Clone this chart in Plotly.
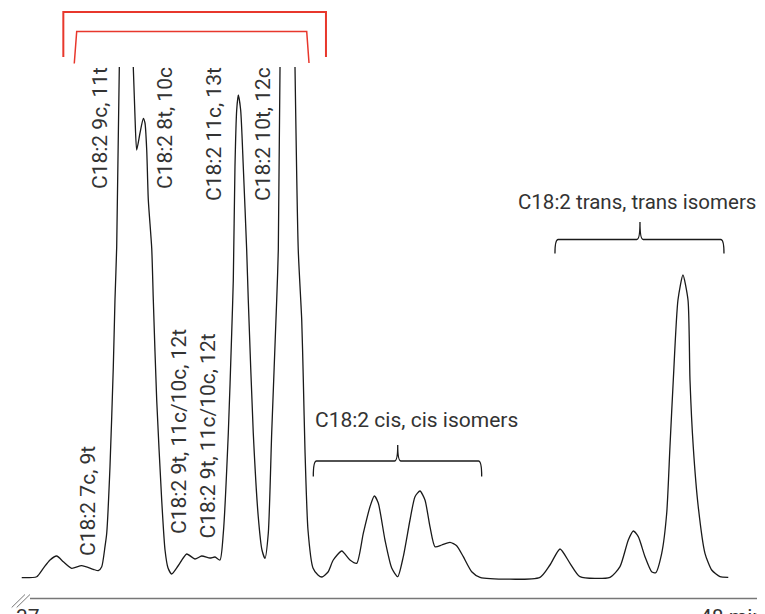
import plotly.graph_objects as go

# Retention time (min) and detector response (arbitrary units).
# None marks where the two biggest peaks run off scale.
time_min = [
    36.902, 37.136, 37.239, 37.344, 37.448, 37.552, 37.683, 37.839, 38.020, 38.098,
    38.152, 38.203, 38.230, 38.281, 38.333, 38.359, 38.386, 38.427, None,
    38.645, 38.672, 38.698, 38.750, 38.802, 38.828, 38.855, 38.880, 38.933, 38.958,
    39.011, 39.089, 39.141, 39.188, 39.245, 39.344, 39.480, 39.609, 39.714, 39.844,
    39.922, 40.000, 40.052, 40.130, 40.183, 40.208, 40.234, 40.261, 40.286, 40.323,
    40.364, 40.417, 40.442, 40.520, 40.598, 40.656, 40.703, 40.755, 40.808, 40.886,
    40.911, 40.938, None,
    41.172, 41.223, 41.277, 41.302, 41.328, 41.375, 41.453, 41.531, 41.594, 41.688,
    41.770, 41.902, 42.031, 42.136, 42.239, 42.344, 42.411, 42.473, 42.578, 42.683,
    42.777, 42.864, 42.969, 43.047, 43.125, 43.203, 43.281, 43.359, 43.464, 43.594,
    43.698, 43.802, 43.933, 44.063, 45.000, 45.156, 45.313, 45.469, 45.625, 46.094,
    46.250, 46.380, 46.458, 46.536, 46.641, 46.745, 46.808, 46.902, 46.980, 47.031,
    47.083, 47.156, 47.234, 47.313, 47.344, 47.395, 47.473, 47.578, 47.683, 47.813,
    47.942,
]
response = [
    0.06, 0.26, 1.94, 3.6, 4.4, 3.26, 1.94, 2.46, 1.74, 1.46,
    2.26, 6.26, 8.94, 22.26, 42.26, 55.6, 66.26, 102.2, None,
    102.2, 92.26, 85.6, 89.0, 91.94, 91.0, 85.6, 75.6, 66.0, 55.6,
    35.6, 15.6, 5.6, 2.0, 0.8, 2.4, 4.8, 3.8, 4.4, 4.0,
    4.2, 3.6, 9.0, 29.0, 49.0, 59.6, 82.26, 93.6, 96.6, 93.6,
    82.26, 65.6, 55.6, 29.0, 12.26, 5.6, 3.94, 9.0, 29.0, 55.6,
    65.6, 102.2, None,
    102.2, 65.6, 51.6, 39.6, 25.6, 9.6, 2.0, 0.6, 0.2, 1.2,
    3.6, 5.4, 3.6, 2.94, 8.94, 14.26, 16.4, 15.0, 7.6, 2.0,
    0.26, 4.26, 11.6, 16.26, 17.4, 15.6, 10.26, 6.26, 6.6, 7.14,
    6.46, 4.26, 1.26, 0.14, 0.14, 2.6, 5.8, 2.94, 0.26, 0.14,
    2.26, 7.6, 9.4, 8.26, 4.26, 1.26, 1.06, 4.94, 12.94, 26.26,
    39.6, 55.6, 60.6, 55.6, 39.6, 26.26, 14.26, 4.94, 1.6, 0.26,
    0.14,
]

# Rotated peak labels: text, time, response at label centre
peak_labels = ["C18:2 9c, 11t", "C18:2 8t, 10c", "C18:2 11c, 13t", "C18:2 10t, 12c",
               "C18:2 7c, 9t", "C18:2 9t, 11c/10c, 12t", "C18:2 9t, 11c/10c, 12t"]
peak_label_t = [38.125, 39.141, 39.906, 40.672, 37.930, 39.359, 39.805]
peak_label_y = [90.0, 90.0, 88.8, 88.8, 15.3, 29.4, 28.4]

tick_vals = [37, 48]
tick_text = ["37", "48 min"]

INK = "#1a1a1a"
TEXT = "#333333"
RED = "#e8372c"
FONT = "Roboto"

fig = go.Figure()

fig.add_trace(go.Scatter(
    x=time_min, y=response, mode="lines",
    line=dict(color=INK, width=1.3, shape="spline", smoothing=0.6),
    hoverinfo="skip", showlegend=False,
))

for txt, t, y in zip(peak_labels, peak_label_t, peak_label_y):
    fig.add_annotation(x=t, y=y, text=txt, textangle=-90, showarrow=False,
                       xanchor="center", yanchor="middle",
                       font=dict(family=FONT, size=21, color=TEXT))

# group labels
fig.add_annotation(x=41.458, y=31.6, text="C18:2 cis, cis isomers", showarrow=False,
                   xanchor="left", yanchor="middle", font=dict(family=FONT, size=21, color=TEXT))
fig.add_annotation(x=46.52, y=75.2, text="C18:2 trans, trans isomers", showarrow=False,
                   xanchor="center", yanchor="middle", font=dict(family=FONT, size=20.5, color=TEXT))


def brace(x0, x1, xm, y, h, tip):
    # curly brace opening downward, tip pointing up at xm
    d = 0.05
    return (f"M {x0},{y - h} Q {x0},{y} {x0 + d},{y} L {xm - d},{y} "
            f"Q {xm},{y} {xm},{y + tip} Q {xm},{y} {xm + d},{y} "
            f"L {x1 - d},{y} Q {x1},{y} {x1},{y - h}")


fig.add_shape(type="path", path=brace(41.458, 44.089, 42.777, 23.4, 3.1, 3.2),
              line=dict(color=INK, width=1.3))
fig.add_shape(type="path", path=brace(45.234, 47.875, 46.5625, 67.7, 2.8, 3.5),
              line=dict(color=INK, width=1.3))

# red brackets over the co-eluting region
fig.add_shape(type="path", path="M 37.552,104.2 L 37.552,113.2 L 41.656,113.2 L 41.656,104.2",
              line=dict(color=RED, width=2))
fig.add_shape(type="path", path="M 37.723,102.9 L 37.761,109.3 L 41.355,109.3 L 41.391,103.0",
              line=dict(color=RED, width=1.5))

# broken time axis
fig.add_shape(type="line", x0=37.031, x1=48.516, y0=-4.1, y1=-4.1,
              line=dict(color="#777777", width=1.5))
for xs in (36.745, 36.823):
    fig.add_shape(type="line", x0=xs, x1=xs + 0.208, y0=-5.9, y1=-3.3,
                  line=dict(color="#777777", width=1))

for v, txt in zip(tick_vals, tick_text):
    fig.add_annotation(x=v, y=-4.9, text=txt, showarrow=False, xanchor="center",
                       yanchor="top", font=dict(family=FONT, size=21, color=TEXT))

# the page puts the figure 8 px in from the window's top-left corner
fig.update_xaxes(range=[36.6875, 48.516], visible=False)
fig.update_yaxes(range=[-7.2, 114.0], visible=False)
fig.update_layout(
    width=757, height=606,
    margin=dict(l=0, r=0, t=0, b=0),
    plot_bgcolor="white", paper_bgcolor="white",
    font=dict(family=FONT),
)

fig.write_html("out.html")
